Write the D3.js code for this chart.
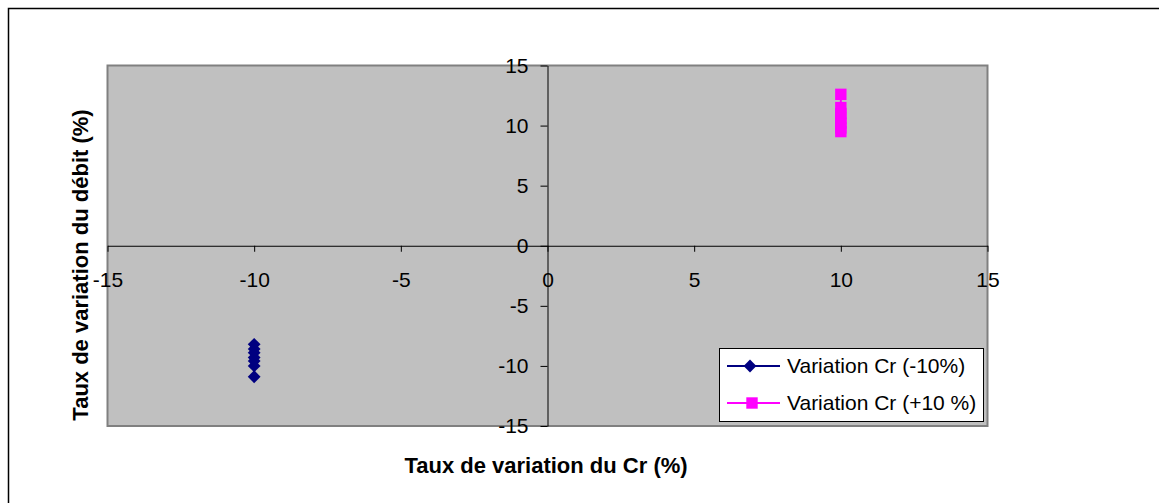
<!DOCTYPE html>
<html>
<head>
<meta charset="utf-8">
<script src="https://cdn.jsdelivr.net/npm/d3@7"></script>
<style>
  body { margin: 0; background: #fff; }
  svg { display: block; font-family: Arial, "Liberation Sans", sans-serif; }
</style>
</head>
<body>
<svg id="chart" width="1159" height="503"></svg>
<script>
// data
var xTicks = [-15, -10, -5, 0, 5, 10, 15];
var yTicks = [-15, -10, -5, 0, 5, 10, 15];
var seriesNames = ["Variation Cr (-10%)", "Variation Cr (+10 %)"];
var minusX = [-10, -10, -10, -10, -10, -10, -10];
var minusY = [-8.2, -8.6, -8.9, -9.3, -9.6, -10.0, -10.9];
var plusX = [10, 10, 10, 10, 10, 10, 10];
var plusY = [12.6, 11.5, 11.0, 10.6, 10.2, 9.8, 9.5];
var colors = ["#000080", "#ff00ff"];

var svg = d3.select("#chart");
var plot = { left: 107.5, top: 65.5, right: 987.5, bottom: 426 };

var x = d3.scaleLinear().domain([-15, 15]).range([plot.left, plot.right]);
var y = d3.scaleLinear().domain([-15, 15]).range([plot.bottom, plot.top]);

// plain hyphen minus, like the original
var fmt = function (d) { return String(d); };

// outer frame (runs off the picture on the right and bottom)
svg.append("rect")
    .attr("x", 8.5).attr("y", 8.5).attr("width", 1180).attr("height", 520)
    .attr("fill", "#fff").attr("stroke", "#000").attr("stroke-width", 1.5);

// plot area
svg.append("rect")
    .attr("x", plot.left).attr("y", plot.top)
    .attr("width", plot.right - plot.left).attr("height", plot.bottom - plot.top)
    .attr("fill", "#c0c0c0").attr("stroke", "#808080").attr("stroke-width", 2);

// axes crossing at 0
var xAxis = svg.append("g")
    .attr("transform", "translate(0," + y(0) + ")")
    .call(d3.axisBottom(x).tickValues(xTicks).tickFormat(fmt).tickSize(6).tickSizeOuter(0).tickPadding(20));
var yAxis = svg.append("g")
    .attr("transform", "translate(" + x(0) + ",0)")
    .call(d3.axisLeft(y).tickValues(yTicks).tickFormat(fmt).tickSize(7).tickSizeOuter(0).tickPadding(12));

[xAxis, yAxis].forEach(function (g) {
    g.select(".domain").attr("stroke", "#000").attr("stroke-width", 1);
    g.selectAll(".tick line").attr("stroke", "#000");
    g.selectAll(".tick text")
        .attr("fill", "#000")
        .style("font-family", "Arial, 'Liberation Sans', sans-serif")
        .style("font-size", "21px");
});

// series
var series = [
    { name: seriesNames[0], color: colors[0], shape: "diamond",
      pts: minusX.map(function (v, i) { return [v, minusY[i]]; }) },
    { name: seriesNames[1], color: colors[1], shape: "square",
      pts: plusX.map(function (v, i) { return [v, plusY[i]]; }) }
];

function marker(shape) {
    if (shape == "diamond")
        return d3.symbol().type(d3.symbolSquare).size(82)();
    return d3.symbol().type(d3.symbolSquare).size(130)();
}

var line = d3.line()
    .x(function (d) { return x(d[0]); })
    .y(function (d) { return y(d[1]); });

series.forEach(function (s) {
    var g = svg.append("g");
    g.append("path")
        .attr("d", line(s.pts))
        .attr("fill", "none").attr("stroke", s.color).attr("stroke-width", 2);
    g.selectAll("path.pt")
        .data(s.pts)
        .enter().append("path")
        .attr("class", "pt")
        .attr("d", marker(s.shape))
        .attr("transform", function (d) {
            return "translate(" + x(d[0]) + "," + y(d[1]) + ")" + (s.shape == "diamond" ? " rotate(45)" : "");
        })
        .attr("fill", s.color);
});

// legend
var legend = svg.append("g");
legend.append("rect")
    .attr("x", 719.5).attr("y", 348.5).attr("width", 264).attr("height", 73)
    .attr("fill", "#fff").attr("stroke", "#000").attr("stroke-width", 1);

var rowY = [366, 403];
series.forEach(function (s, i) {
    legend.append("line")
        .attr("x1", 727).attr("x2", 780).attr("y1", rowY[i]).attr("y2", rowY[i])
        .attr("stroke", s.color).attr("stroke-width", 2);
    legend.append("path")
        .attr("d", marker(s.shape))
        .attr("transform", "translate(" + (i == 0 ? 750 : 752) + "," + rowY[i] + ")" + (s.shape == "diamond" ? " rotate(45)" : ""))
        .attr("fill", s.color);
    legend.append("text")
        .attr("x", 787).attr("y", rowY[i] + 7)
        .style("font-size", "21px")
        .text(s.name);
});

// axis titles
svg.append("text")
    .attr("x", 546).attr("y", 473)
    .attr("text-anchor", "middle")
    .style("font-size", "22px").style("font-weight", "bold")
    .text("Taux de variation du Cr (%)");

svg.append("text")
    .attr("transform", "translate(88,265) rotate(-90)")
    .attr("text-anchor", "middle")
    .style("font-size", "22px").style("font-weight", "bold")
    .text("Taux de variation du débit (%)");
</script>
</body>
</html>
